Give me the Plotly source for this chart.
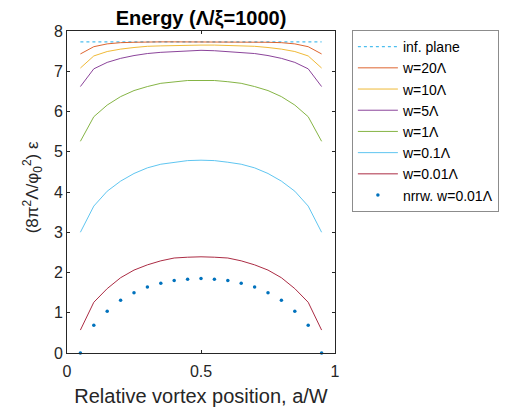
import plotly.graph_objects as go

x = [0.05, 0.10, 0.15, 0.20, 0.25, 0.30, 0.35, 0.40, 0.45, 0.50,
     0.55, 0.60, 0.65, 0.70, 0.75, 0.80, 0.85, 0.90, 0.95]

inf_plane = [7.73, 7.73, 7.73, 7.73, 7.73, 7.73, 7.73, 7.73, 7.73, 7.73,
             7.73, 7.73, 7.73, 7.73, 7.73, 7.73, 7.73, 7.73, 7.73]
w20 = [7.43, 7.61, 7.68, 7.71, 7.72, 7.73, 7.73, 7.73, 7.73, 7.73,
       7.73, 7.73, 7.73, 7.73, 7.72, 7.71, 7.68, 7.61, 7.43]
w10 = [7.08, 7.38, 7.49, 7.55, 7.59, 7.62, 7.63, 7.64, 7.65, 7.65,
       7.65, 7.64, 7.63, 7.62, 7.59, 7.55, 7.49, 7.38, 7.08]
w5 = [6.62, 7.06, 7.22, 7.32, 7.39, 7.44, 7.47, 7.49, 7.51, 7.52,
      7.51, 7.49, 7.47, 7.44, 7.39, 7.32, 7.22, 7.06, 6.62]
w1 = [5.26, 5.87, 6.16, 6.37, 6.52, 6.62, 6.70, 6.74, 6.77, 6.77,
      6.77, 6.74, 6.70, 6.62, 6.52, 6.37, 6.16, 5.87, 5.26]
w01 = [3.00, 3.65, 4.02, 4.27, 4.46, 4.60, 4.69, 4.74, 4.78, 4.79,
       4.78, 4.74, 4.69, 4.60, 4.46, 4.27, 4.02, 3.65, 3.00]
w001 = [0.57, 1.26, 1.60, 1.87, 2.06, 2.19, 2.29, 2.36, 2.38, 2.39,
        2.38, 2.36, 2.29, 2.19, 2.06, 1.87, 1.60, 1.26, 0.57]
nrrw001 = [0.00, 0.69, 1.04, 1.31, 1.50, 1.64, 1.73, 1.80, 1.83, 1.85,
           1.83, 1.80, 1.73, 1.64, 1.50, 1.31, 1.04, 0.69, 0.00]

x_ticks = [0, 0.5, 1]
y_ticks = [0, 1, 2, 3, 4, 5, 6, 7, 8]

FONT = "Liberation Sans, Arial, Helvetica, sans-serif"
AX = "#262626"

fig = go.Figure()
fig.add_trace(go.Scatter(x=x, y=inf_plane, mode="lines", name="inf. plane",
                         line=dict(color="rgb(77,190,238)", width=1.2, dash="dot")))
series = [
    ("w=20Λ", w20, "rgb(217,83,25)"),
    ("w=10Λ", w10, "rgb(237,177,32)"),
    ("w=5Λ", w5, "rgb(126,47,142)"),
    ("w=1Λ", w1, "rgb(119,172,48)"),
    ("w=0.1Λ", w01, "rgb(77,190,238)"),
    ("w=0.01Λ", w001, "rgb(162,20,47)"),
]
for name, ys, col in series:
    fig.add_trace(go.Scatter(x=x, y=ys, mode="lines", name=name,
                             line=dict(color=col, width=0.9)))
fig.add_trace(go.Scatter(x=x, y=nrrw001, mode="markers", name="nrrw. w=0.01Λ",
                         marker=dict(color="rgb(0,114,189)", size=3.5),
                         cliponaxis=False))

fig.update_layout(
    width=507, height=407,
    margin=dict(l=67, r=172, t=31, b=54, autoexpand=False),
    paper_bgcolor="white", plot_bgcolor="white",
    font=dict(family=FONT, size=16, color=AX),
    title=dict(text="<b>Energy (Λ/ξ=1000)</b>", x=(67 + 335) / 2 / 507, xanchor="center",
               y=1 - 18 / 407, yanchor="middle", font=dict(size=20, color="black")),
    showlegend=True,
    legend=dict(x=1.063, xanchor="left", y=1.003, yanchor="top",
                bordercolor="#8c8c8c", borderwidth=1, bgcolor="white",
                font=dict(size=14, color="black"), itemwidth=40,
                tracegroupgap=0),
    annotations=[dict(text="(8π<sup>2</sup>Λ/φ<sub>0</sub><sup>2</sup>) ε",
                      xref="paper", yref="paper", x=-0.13, y=0.515,
                      xanchor="center", yanchor="middle", textangle=-90,
                      showarrow=False, font=dict(size=17, color=AX))],
)
fig.update_xaxes(range=[0, 1], tickvals=x_ticks, ticktext=["0", "0.5", "1"],
                 ticks="inside", ticklen=3, tickcolor=AX, showline=True, linecolor=AX,
                 linewidth=1, mirror="ticks", showgrid=False, zeroline=False,
                 tickfont=dict(size=16), ticklabelstandoff=4,
                 title=dict(text="Relative vortex position, a/W", font=dict(size=20, color=AX),
                            standoff=10))
fig.update_yaxes(range=[0, 8], tickvals=y_ticks,
                 ticks="inside", ticklen=3, tickcolor=AX, showline=True, linecolor=AX,
                 linewidth=1, mirror="ticks", showgrid=False, zeroline=False,
                 tickfont=dict(size=16))

fig.write_html("out.html", config={"displayModeBar": False},
               post_script="document.body.style.margin='0';document.body.style.overflow='hidden';")
